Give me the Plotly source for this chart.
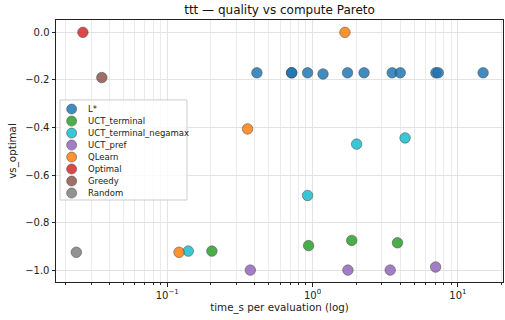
import plotly.graph_objects as go

# ---- data ----
series_names = ["L*", "UCT_terminal", "UCT_terminal_negamax", "UCT_pref",
                "QLearn", "Optimal", "Greedy", "Random"]
series_colors = ["#1f77b4", "#2ca02c", "#17becf", "#9467bd",
                 "#ff7f0e", "#d62728", "#8c564b", "#7f7f7f"]

lstar_time = [0.414, 0.716, 0.720, 0.924, 1.18, 1.74, 2.26, 3.53, 4.01, 7.05, 7.32, 14.9]
lstar_q = [-0.17, -0.17, -0.17, -0.17, -0.175, -0.17, -0.17, -0.17, -0.17, -0.17, -0.17, -0.17]

uct_terminal_time = [0.203, 0.939, 1.86, 3.84]
uct_terminal_q = [-0.92, -0.897, -0.875, -0.885]

uct_negamax_time = [0.1396, 0.924, 2.01, 4.33]
uct_negamax_q = [-0.92, -0.686, -0.470, -0.444]

uct_pref_time = [0.373, 1.75, 3.42, 7.02]
uct_pref_q = [-1.0, -1.0, -1.0, -0.987]

qlearn_time = [0.1206, 0.357, 1.67]
qlearn_q = [-0.925, -0.406, 0.0]

optimal_time = [0.0263]
optimal_q = [0.0]

greedy_time = [0.0355]
greedy_q = [-0.19]

random_time = [0.0237]
random_q = [-0.925]

xtick_vals = [0.1, 1, 10]
xtick_text = ["10<sup>\u22121</sup>", "10<sup>0</sup>", "10<sup>1</sup>"]
ytick_vals = [0.0, -0.2, -0.4, -0.6, -0.8, -1.0]
ytick_text = ["0.0", "\u22120.2", "\u22120.4", "\u22120.6", "\u22120.8", "\u22121.0"]

all_series = [
    (lstar_time, lstar_q), (uct_terminal_time, uct_terminal_q),
    (uct_negamax_time, uct_negamax_q), (uct_pref_time, uct_pref_q),
    (qlearn_time, qlearn_q), (optimal_time, optimal_q),
    (greedy_time, greedy_q), (random_time, random_q),
]

# minor log gridline positions (2..9 per decade)
minor_vals = [m * 10.0 ** e for e in (-2, -1, 0, 1) for m in range(2, 10)]

fig = go.Figure()
for name, color, (xs, ys) in zip(series_names, series_colors, all_series):
    fig.add_trace(go.Scatter(
        x=xs, y=ys, mode="markers", name=name, showlegend=False,
        marker=dict(size=10.5, color=color, opacity=0.85,
                    line=dict(color="#3a3a3a", width=0.6)),
    ))

# ---- compact legend box (matplotlib-like) in paper coordinates ----
leg_left, leg_right, leg_top, leg_bottom = 0.009, 0.293, 0.695, 0.313
leg_first, leg_step = 0.66, 0.0458
fig.add_shape(type="rect", xref="paper", yref="paper",
              x0=leg_left, x1=leg_right, y0=leg_bottom, y1=leg_top,
              fillcolor="rgba(255,255,255,0.8)", line=dict(color="#cccccc", width=1),
              layer="above")
for i, (name, color) in enumerate(zip(series_names, series_colors)):
    yy = leg_first - i * leg_step
    fig.add_shape(type="circle", xref="paper", yref="paper",
                  xsizemode="pixel", ysizemode="pixel",
                  xanchor=0.035, yanchor=yy, x0=-5, x1=5, y0=-5, y1=5,
                  fillcolor=color, opacity=0.85,
                  line=dict(color="#3a3a3a", width=0.6), layer="above")
    fig.add_annotation(xref="paper", yref="paper", x=0.068, y=yy,
                       xanchor="left", yanchor="middle", showarrow=False,
                       text=name, font=dict(size=8.5, color="#222222"))

font_family = "DejaVu Sans, sans-serif"
fig.update_layout(
    width=505, height=320,
    margin=dict(l=56, r=2, t=20, b=38, autoexpand=False),
    paper_bgcolor="white", plot_bgcolor="white",
    font=dict(family=font_family, size=10, color="#222222"),
    title=dict(text="ttt \u2014 quality vs compute Pareto", x=0.5535, xanchor="center",
               y=0.968, yanchor="middle", font=dict(size=12, color="#111111")),
    showlegend=False,
)
fig.update_xaxes(
    type="log", range=[-1.765, 1.31], automargin=False,
    tickvals=xtick_vals, ticktext=xtick_text,
    showgrid=True, gridcolor="#e3e3e3", gridwidth=0.8,
    minor=dict(tickvals=minor_vals, showgrid=True, gridcolor="#ebebeb", gridwidth=0.6,
               ticks="outside", ticklen=2, tickcolor="#333333"),
    showline=True, linecolor="#222222", linewidth=1, mirror=True,
    ticks="outside", ticklen=3.5, tickcolor="#222222", zeroline=False,
    tickfont=dict(size=10),
    title=dict(text="time_s per evaluation (log)", standoff=4, font=dict(size=10.3)),
)
fig.update_yaxes(
    range=[-1.05, 0.052], automargin=False,
    tickvals=ytick_vals, ticktext=ytick_text,
    showgrid=True, gridcolor="#e3e3e3", gridwidth=0.8,
    showline=True, linecolor="#222222", linewidth=1, mirror=True,
    ticks="outside", ticklen=3.5, tickcolor="#222222", zeroline=False,
    tickfont=dict(size=10),
    title=dict(text="vs_optimal", standoff=6, font=dict(size=10.3)),
)

fig.write_html("out.html", config={"displayModeBar": False},
               post_script="document.body.style.margin='0';")
